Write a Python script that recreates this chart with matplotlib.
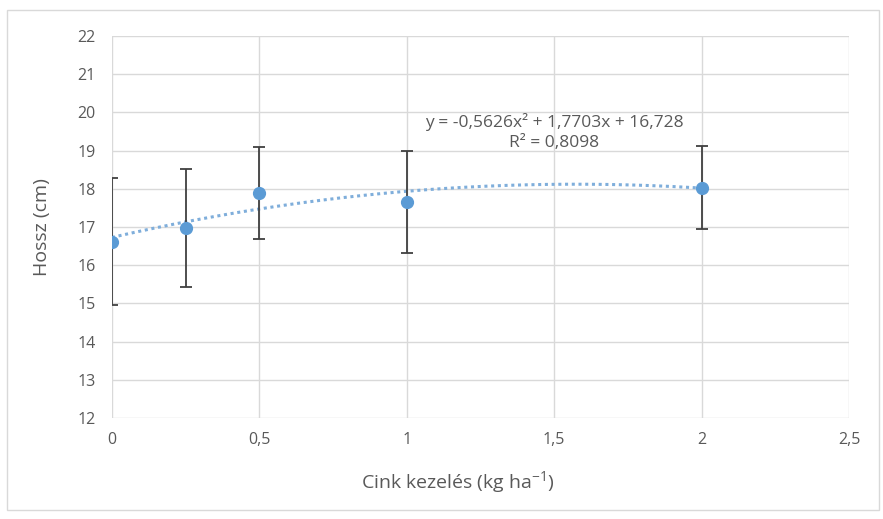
import numpy as np
import matplotlib
matplotlib.use('Agg')
import matplotlib.pyplot as plt
from matplotlib.patches import Rectangle

plt.rcParams['font.family'] = ['Open Sans', 'DejaVu Sans']
plt.rcParams['mathtext.default'] = 'regular'

# data
dose = [0, 0.25, 0.5, 1, 2]
length = [16.62, 16.97, 17.89, 17.65, 18.03]
err = [1.66, 1.55, 1.2, 1.33, 1.08]
trend_coef = [-0.5626, 1.7703, 16.728]
x_ticks = [0, 0.5, 1, 1.5, 2, 2.5]
x_tick_labels = ['0', '0,5', '1', '1,5', '2', '2,5']
y_ticks = list(range(12, 23))

text_col = '#595959'
grid_col = '#D9D9D9'

fig = plt.figure(figsize=(8.83, 5.19), dpi=100)
fig.patches.append(Rectangle((0.008, 0.017), 0.988, 0.963, transform=fig.transFigure,
                             fill=False, edgecolor='#D9D9D9', linewidth=1))
ax = fig.add_axes([0.1268, 0.1946, 0.8347, 0.736])

# trendline
xt = np.linspace(0, 2, 200)
ax.plot(xt, np.polyval(trend_coef, xt), linestyle=(0, (1, 1.2)), color='#7FAEDB',
        linewidth=2.2, zorder=2)

ax.errorbar(dose, length, yerr=err, fmt='o', color='#5B9BD5', markersize=8.5,
            ecolor='#404040', elinewidth=1.3, capsize=4, capthick=1.3, zorder=3)

ax.text(1.5, 19.75, 'y = -0,5626x² + 1,7703x + 16,728', ha='center', va='center',
        fontsize=12.5, color=text_col)
ax.text(1.5, 19.2, 'R² = 0,8098', ha='center', va='center', fontsize=12.5, color=text_col)

ax.set_xlim(0, 2.5)
ax.set_ylim(12, 22)
ax.set_xticks(x_ticks)
ax.set_xticklabels(x_tick_labels)
ax.set_yticks(y_ticks)
ax.grid(True, color=grid_col, linewidth=1)
ax.set_axisbelow(True)
for s in ax.spines.values():
    s.set_visible(False)
ax.tick_params(length=0, labelsize=11.5, colors=text_col, pad=12)
ax.tick_params(axis='x', pad=10)

ax.set_xlabel('Cink kezelés (kg ha$^{-1}$)', fontsize=14, color=text_col)
ax.xaxis.set_label_coords(0.469, -0.135)
ax.set_ylabel('Hossz (cm)', fontsize=14, color=text_col, labelpad=19)

fig.savefig('out.png', dpi=100)
